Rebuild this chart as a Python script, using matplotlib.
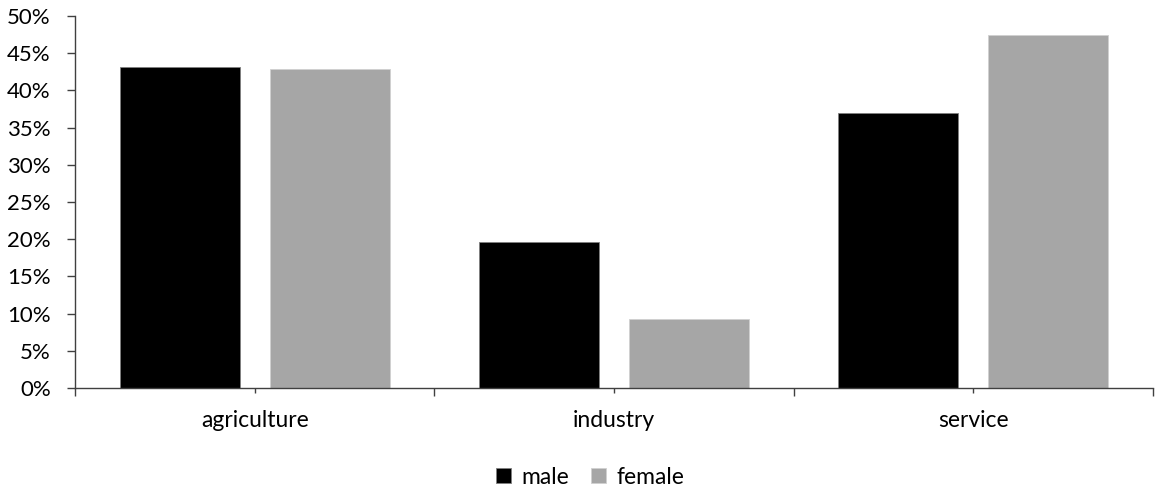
import matplotlib
matplotlib.use("Agg")
import matplotlib.pyplot as plt
from matplotlib.ticker import FixedLocator, FuncFormatter
import numpy as np

# Employment share by sector and sex (%)
sectors = ["agriculture", "industry", "service"]
male = [43.2, 19.6, 36.9]
female = [42.9, 9.3, 47.5]
series_names = ["male", "female"]
y_ticks = [0, 5, 10, 15, 20, 25, 30, 35, 40, 45, 50]

plt.rcParams["font.family"] = ["Lato", "DejaVu Sans"]

W, H = 1157, 491
fig = plt.figure(figsize=(W / 100, H / 100), dpi=100)
ax = fig.add_axes([75 / W, (H - 388) / H, (1153 - 75) / W, (388 - 16) / H])

x = np.arange(len(sectors))
bw = 0.334
off = 0.209
ax.bar(x - off, male, bw, color="#000000", edgecolor="#7f7f7f", linewidth=0.6,
       label=series_names[0], zorder=2)
ax.bar(x + off, female, bw, color="#a6a6a6", edgecolor="#d0d0d0", linewidth=0.6,
       label=series_names[1], zorder=2)

ax.set_xlim(-0.5, len(sectors) - 0.5)
ax.set_ylim(0, 50)

ax.yaxis.set_major_locator(FixedLocator(y_ticks))
ax.yaxis.set_major_formatter(FuncFormatter(lambda v, p: f"{v:.0f}%"))

ax.set_xticks(x)
ax.set_xticklabels(sectors)
ax.xaxis.set_minor_locator(FixedLocator(np.arange(-0.5, len(sectors), 1.0)))

for s in ["top", "right"]:
    ax.spines[s].set_visible(False)
for s in ["left", "bottom"]:
    ax.spines[s].set_color("#404040")
    ax.spines[s].set_linewidth(1.0)

ax.tick_params(axis="y", which="major", length=5.5, width=1.0, color="#404040",
               labelsize=16, pad=12, labelcolor="#000000")
ax.tick_params(axis="x", which="major", length=3.5, width=1.0, color="#404040",
               labelsize=16.5, pad=12, labelcolor="#000000")
ax.tick_params(axis="x", which="minor", length=5.5, width=1.0, color="#404040")

fig.legend(loc="center", bbox_to_anchor=(590 / W, 1 - 477 / H), ncol=2,
           frameon=False, fontsize=16.5, handlelength=0.65, handleheight=0.65,
           handletextpad=0.45, columnspacing=0.95, borderpad=0, borderaxespad=0)

fig.savefig("out.png", dpi=100)
